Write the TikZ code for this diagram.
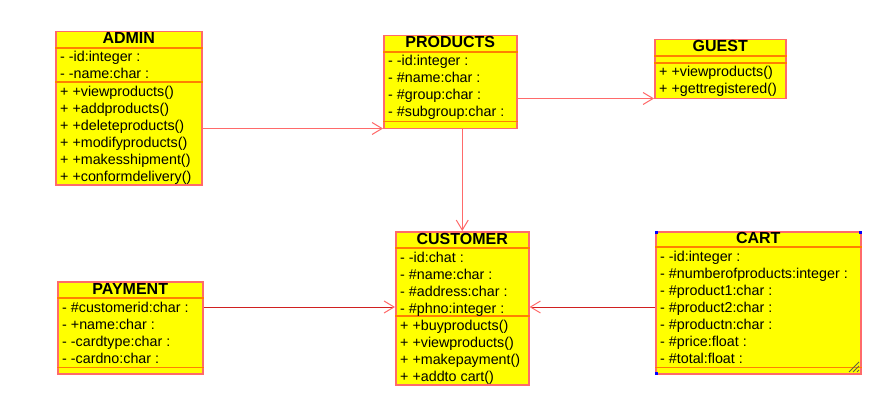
\documentclass[tikz,border=0pt]{standalone}
\usepackage{fontspec}
\setmainfont{Liberation Sans}
\usetikzlibrary{arrows.meta}
\definecolor{classfill}{HTML}{FFFF00}
\definecolor{classedge}{HTML}{FF6A6A}
\definecolor{classrule}{HTML}{FF8000}
\definecolor{linklight}{HTML}{FF6A6A}
\definecolor{linkdark}{HTML}{D02020}
\definecolor{handle}{HTML}{0000FF}
\tikzset{
  classbox/.style={draw=classedge, fill=classfill, line width=1.5pt, inner sep=0pt, anchor=north west},
  sepline/.style={draw=classrule, line width=1.5pt},
  classtitle/.style={font=\bfseries\fontsize{16}{17}\selectfont, inner sep=0pt, anchor=base},
  members/.style={font=\fontsize{14.3}{17}\selectfont, align=left, inner sep=0pt, anchor=base west},
  assoc/.style={draw=linklight, line width=1pt, -{Straight Barb[length=10pt,width=12pt,color=linklight]}},
  assocdark/.style={assoc, draw=linkdark}
}
\begin{document}
\begin{tikzpicture}[x=1pt,y=-1pt]
	\useasboundingbox (0,0) rectangle (894,417);

	% admin
	\node[classbox, minimum width=146pt, minimum height=153pt] (admin) at (55,31) {};
	\draw[sepline] ([yshift=-17pt]admin.north west) -- ([yshift=-17pt]admin.north east);
	\draw[sepline] ([yshift=-51pt]admin.north west) -- ([yshift=-51pt]admin.north east);
	\node[classtitle] (admin-title) at ([yshift=-13pt]admin.north) {ADMIN};
	% members: base anchor sits on the last line
	\node[members] (admin-attr) at ([xshift=5pt,yshift=-48pt]admin.north west) {- -id:integer :\\- -name:char :};
	\node[members] (admin-ops) at ([xshift=5pt,yshift=-150pt]admin.north west) {+ +viewproducts()\\+ +addproducts()\\+ +deleteproducts()\\+ +modifyproducts()\\+ +makesshipment()\\+ +conformdelivery()};

	% products
	\node[classbox, minimum width=133pt, minimum height=93pt] (products) at (383,35) {};
	\draw[sepline] ([yshift=-17pt]products.north west) -- ([yshift=-17pt]products.north east);
	\draw[sepline] ([yshift=8pt]products.south west) -- ([yshift=8pt]products.south east);
	\node[classtitle] (products-title) at ([yshift=-13pt]products.north) {PRODUCTS};
	\node[members] (products-attr) at ([xshift=5pt,yshift=-82pt]products.north west) {- -id:integer :\\- \#name:char :\\- \#group:char :\\- \#subgroup:char :};

	% guest
	\node[classbox, minimum width=131pt, minimum height=59pt] (guest) at (654,39) {};
	\draw[sepline] ([yshift=-17pt]guest.north west) -- ([yshift=-17pt]guest.north east);
	\draw[sepline] ([yshift=-24pt]guest.north west) -- ([yshift=-24pt]guest.north east);
	\node[classtitle] (guest-title) at ([yshift=-13pt]guest.north) {GUEST};
	\node[members] (guest-ops) at ([xshift=5pt,yshift=-55pt]guest.north west) {+ +viewproducts()\\+ +gettregistered()};

	% customer
	\node[classbox, minimum width=133pt, minimum height=153pt] (customer) at (395,231) {};
	\draw[sepline] ([yshift=-17pt]customer.north west) -- ([yshift=-17pt]customer.north east);
	\draw[sepline] ([yshift=-85pt]customer.north west) -- ([yshift=-85pt]customer.north east);
	\node[classtitle] (customer-title) at ([yshift=-13pt]customer.north) {CUSTOMER};
	\node[members] (customer-attr) at ([xshift=5pt,yshift=-82pt]customer.north west) {- -id:chat :\\- \#name:char :\\- \#address:char :\\- \#phno:integer :};
	\node[members] (customer-ops) at ([xshift=5pt,yshift=-150pt]customer.north west) {+ +buyproducts()\\+ +viewproducts()\\+ +makepayment()\\+ +addto cart()};

	% payment
	\node[classbox, minimum width=145pt, minimum height=92pt] (payment) at (57,281) {};
	\draw[sepline] ([yshift=-17pt]payment.north west) -- ([yshift=-17pt]payment.north east);
	\draw[sepline] ([yshift=7pt]payment.south west) -- ([yshift=7pt]payment.south east);
	\node[classtitle] (payment-title) at ([yshift=-13pt]payment.north) {PAYMENT};
	\node[members] (payment-attr) at ([xshift=5pt,yshift=-82pt]payment.north west) {- \#customerid:char :\\- +name:char :\\- -cardtype:char :\\- -cardno:char :};

	% cart
	\node[classbox, minimum width=205pt, minimum height=142pt] (cart) at (655,231) {};
	\draw[sepline] ([yshift=-16pt]cart.north west) -- ([yshift=-16pt]cart.north east);
	\draw[sepline] ([yshift=7pt]cart.south west) -- ([yshift=7pt]cart.south east);
	\node[classtitle] (cart-title) at ([yshift=-12pt]cart.north) {CART};
	\node[members] (cart-attr) at ([xshift=5pt,yshift=-132pt]cart.north west) {- -id:integer :\\- \#numberofproducts:integer :\\- \#product1:char :\\- \#product2:char :\\- \#productn:char :\\- \#price:float :\\- \#total:float :};
	\fill[handle] (cart.north west) rectangle +(3,3);
	\fill[handle] (cart.north east) rectangle +(-3,3);
	\fill[handle] (cart.south west) rectangle +(3,-3);
	\draw[black!70!yellow, line width=0.8pt] (849,372) -- (859,362) (853,372) -- (859,366) (857,372) -- (859,370);

	% links
	\coordinate (a2p) at ([yshift=1pt]products.south west);
	\coordinate (p2g) at ([yshift=1pt]guest.south west);
	\coordinate (c-left) at ([yshift=-76pt]customer.north west);
	\coordinate (c-right) at ([yshift=-76pt]customer.north east);
	\draw[assoc] (admin.east |- a2p) -- (a2p);
	\draw[assoc] (products.east |- p2g) -- (p2g);
	\draw[assoc] (products.south -| customer.north) -- (customer.north);
	\draw[assocdark] (payment.east |- c-left) -- (c-left);
	\draw[assocdark] (cart.west |- c-right) -- (c-right);
\end{tikzpicture}
\end{document}
